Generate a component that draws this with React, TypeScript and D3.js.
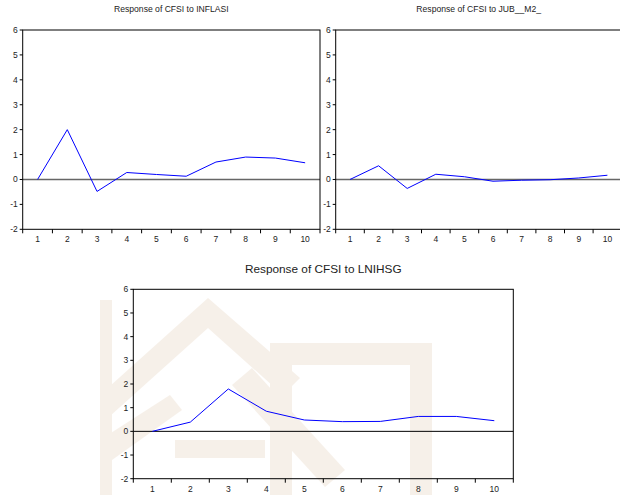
import { useRef, useEffect } from "react";
import * as d3 from "d3";

const periods = ["1", "2", "3", "4", "5", "6", "7", "8", "9", "10"];
const yTicks = [-2, -1, 0, 1, 2, 3, 4, 5, 6];

const inflasi = [0, 2.0, -0.48, 0.28, 0.2, 0.13, 0.7, 0.9, 0.86, 0.67];
const jubM2 = [0, 0.55, -0.36, 0.21, 0.11, -0.07, -0.03, -0.01, 0.06, 0.17];
const lnihsg = [0, 0.39, 1.79, 0.85, 0.48, 0.41, 0.42, 0.63, 0.63, 0.45];

const titles = [
  "Response of CFSI to INFLASI",
  "Response of CFSI to JUB__M2_",
  "Response of CFSI to LNIHSG",
];

const App = () => {
  const svgRef = useRef(null);

  useEffect(() => {
    const svg = d3.select(svgRef.current);
    svg.selectAll("*").remove();

    // faint watermark behind the bottom panel
    const wm = svg.append("g").attr("fill", "#e8d6c2").attr("opacity", 0.35);
    const polys = [
      [[100, 395], [208, 298], [300, 378], [283, 395], [208, 328], [100, 425]],
      [[270, 343], [432, 343], [432, 495], [410, 495], [410, 365], [270, 365]],
      [[270, 343], [292, 343], [292, 495], [270, 495]],
      [[232, 385], [252, 368], [345, 470], [325, 487]],
      [[100, 440], [170, 395], [182, 410], [112, 460]],
      [[100, 300], [112, 300], [112, 495], [100, 495]],
      [[175, 440], [265, 440], [265, 458], [175, 458]],
    ];
    polys.forEach((p) => {
      wm.append("path").attr("d", d3.line()(p) + "Z");
    });

    const panels = [
      { data: inflasi, x0: 22.7, x1: 320, y0: 30, y1: 229.3, ty: 12, zero: "#666", zw: 1.6, tf: 8.6 },
      { data: jubM2, x0: 335.7, x1: 621.7, y0: 30, y1: 229.3, ty: 12, zero: "#666", zw: 1.6, tf: 8.6 },
      { data: lnihsg, x0: 133.3, x1: 513.3, y0: 289.3, y1: 478.7, ty: 273, zero: "#000", zw: 1, tf: 11.8 },
    ];

    panels.forEach((p, i) => {
      const x = d3.scaleBand().domain(periods).range([p.x0, p.x1]);
      const y = d3.scaleLinear().domain([-2, 6]).range([p.y1, p.y0]);
      const g = svg.append("g").attr("font-family", "'Liberation Sans', Arial, sans-serif");

      // title
      g.append("text")
        .attr("x", (p.x0 + p.x1) / 2)
        .attr("y", p.ty)
        .attr("text-anchor", "middle")
        .attr("font-size", p.tf)
        .attr("fill", "#222")
        .text(titles[i]);

      // zero line
      g.append("line")
        .attr("x1", p.x0)
        .attr("x2", p.x1)
        .attr("y1", y(0))
        .attr("y2", y(0))
        .attr("stroke", p.zero)
        .attr("stroke-width", p.zw);

      // frame
      g.append("rect")
        .attr("x", p.x0)
        .attr("y", p.y0)
        .attr("width", p.x1 - p.x0)
        .attr("height", p.y1 - p.y0)
        .attr("fill", "none")
        .attr("stroke", "#000")
        .attr("stroke-width", 1);

      // y ticks
      yTicks.forEach((t) => {
        g.append("line")
          .attr("x1", p.x0 - 3)
          .attr("x2", p.x0)
          .attr("y1", y(t))
          .attr("y2", y(t))
          .attr("stroke", "#000");
        g.append("text")
          .attr("x", p.x0 - 5)
          .attr("y", y(t))
          .attr("dy", "0.35em")
          .attr("text-anchor", "end")
          .attr("font-size", 8.5)
          .attr("fill", "#222")
          .text(t);
      });

      // x ticks at band edges, labels at centres
      const edges = periods.map((d) => x(d)).concat([p.x1]);
      edges.forEach((e) => {
        g.append("line")
          .attr("x1", e)
          .attr("x2", e)
          .attr("y1", p.y1)
          .attr("y2", p.y1 + 4)
          .attr("stroke", "#000");
      });
      periods.forEach((d) => {
        g.append("text")
          .attr("x", x(d) + x.bandwidth() / 2)
          .attr("y", p.y1 + 10)
          .attr("dy", "0.35em")
          .attr("text-anchor", "middle")
          .attr("font-size", 8.5)
          .attr("fill", "#222")
          .text(d);
      });

      // response line
      const line = d3
        .line()
        // @ts-ignore
        .x((d, j) => x(periods[j]) + x.bandwidth() / 2)
        // @ts-ignore
        .y((d) => y(d));
      g.append("path")
        .datum(p.data)
        // @ts-ignore
        .attr("d", line)
        .attr("fill", "none")
        .attr("stroke", "#0000ff")
        .attr("stroke-width", 1);
    });
  }, []);

  return (
    <div style={{ position: "absolute", left: 0, top: 0 }}>
      <svg ref={svgRef} width={620} height={495} style={{ display: "block", background: "#fff" }}></svg>
    </div>
  );
};

export default App;
